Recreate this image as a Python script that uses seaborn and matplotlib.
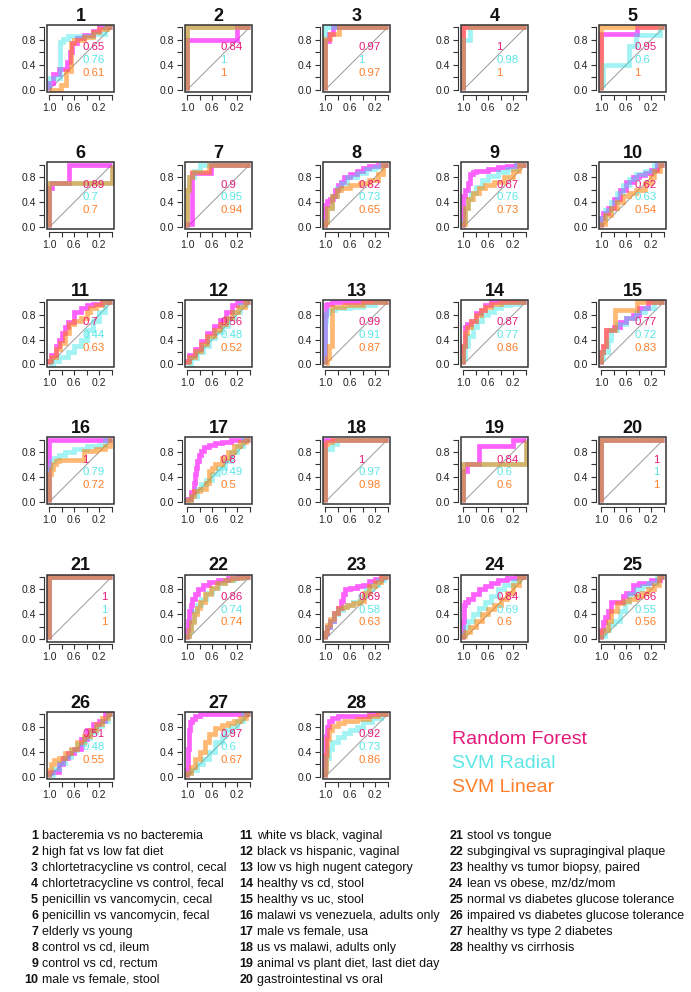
import matplotlib
matplotlib.use("Agg")
import matplotlib.pyplot as plt
from matplotlib.patches import Rectangle
import seaborn as sns

sns.set_theme(style="white")
plt.rcParams["font.family"] = ["Liberation Sans", "DejaVu Sans"]

# AUC values printed in each panel
auc_rf = [0.65, 0.84, 0.97, 1, 0.95, 0.89, 0.9, 0.82, 0.87, 0.62,
          0.7, 0.56, 0.99, 0.87, 0.77, 1, 0.8, 1, 0.84, 1,
          1, 0.86, 0.69, 0.84, 0.66, 0.51, 0.97, 0.92]
auc_radial = [0.76, 1, 1, 0.98, 0.6, 0.7, 0.95, 0.73, 0.76, 0.63,
              0.44, 0.48, 0.91, 0.77, 0.72, 0.79, 0.49, 0.97, 0.6, 1,
              1, 0.74, 0.58, 0.69, 0.55, 0.48, 0.6, 0.73]
auc_linear = [0.61, 1, 0.97, 1, 1, 0.7, 0.94, 0.65, 0.73, 0.54,
              0.63, 0.52, 0.87, 0.86, 0.83, 0.72, 0.5, 0.98, 0.6, 1,
              1, 0.74, 0.63, 0.6, 0.56, 0.55, 0.67, 0.86]

descriptions = [
    "bacteremia vs no bacteremia", "high fat vs low fat diet",
    "chlortetracycline vs control, cecal", "chlortetracycline vs control, fecal",
    "penicillin vs vancomycin, cecal", "penicillin vs vancomycin, fecal",
    "elderly vs young", "control vs cd, ileum", "control vs cd, rectum",
    "male vs female, stool", "white vs black, vaginal",
    "black vs hispanic, vaginal", "low vs high nugent category",
    "healthy vs cd, stool", "healthy vs uc, stool",
    "malawi vs venezuela, adults only", "male vs female, usa",
    "us vs malawi, adults only", "animal vs plant diet, last diet day",
    "gastrointestinal vs oral", "stool vs tongue",
    "subgingival vs supragingival plaque", "healthy vs tumor biopsy, paired",
    "lean vs obese, mz/dz/mom", "normal vs diabetes glucose tolerance",
    "impaired vs diabetes glucose tolerance", "healthy vs type 2 diabetes",
    "healthy vs cirrhosis",
]

models = ["Random Forest", "SVM Radial", "SVM Linear"]

# ROC step corners: (specificity, sensitivity), sensitivity held until that specificity
roc_rf = {
    1: [(1, 0), (0.95, 0.1), (0.85, 0.25), (0.72, 0.33), (0.67, 0.45), (0.63, 0.6), (0.55, 0.75), (0.45, 0.83), (0.3, 0.88), (0.2, 0.95), (0, 1)],
    2: [(1, 0), (0.2, 0.8), (0, 1)],
    3: [(1, 0), (0.95, 0.78), (0.88, 0.9), (0.8, 1), (0, 1)],
    4: [(1, 0), (0, 1)],
    5: [(1, 0), (0.42, 0.9), (0, 1)],
    6: [(1, 0), (0.96, 0.62), (0.68, 0.7), (0, 1)],
    7: [(1, 0), (0.92, 0.05), (0.62, 0.87), (0, 1)],
    8: [(1, 0), (0.97, 0.35), (0.92, 0.42), (0.88, 0.45), (0.85, 0.5), (0.8, 0.6), (0.75, 0.68), (0.7, 0.72), (0.6, 0.8), (0.5, 0.85), (0.4, 0.9), (0.3, 0.95), (0.15, 0.98), (0, 1)],
    9: [(1, 0), (0.97, 0.5), (0.93, 0.6), (0.9, 0.7), (0.85, 0.85), (0.8, 0.88), (0.6, 0.9), (0.45, 0.93), (0.3, 0.96), (0.15, 0.98), (0, 1)],
    10: [(1, 0), (0.97, 0.15), (0.9, 0.22), (0.8, 0.3), (0.7, 0.45), (0.6, 0.6), (0.5, 0.72), (0.4, 0.8), (0.3, 0.83), (0.2, 0.87), (0.1, 0.92), (0, 1)],
    11: [(1, 0), (0.97, 0.05), (0.9, 0.15), (0.85, 0.3), (0.8, 0.4), (0.75, 0.5), (0.7, 0.6), (0.6, 0.68), (0.5, 0.85), (0.4, 0.9), (0.3, 0.95), (0.15, 0.98), (0, 1)],
    12: [(1, 0), (0.97, 0.05), (0.88, 0.15), (0.78, 0.25), (0.68, 0.38), (0.58, 0.5), (0.48, 0.62), (0.38, 0.72), (0.28, 0.85), (0.2, 0.95), (0.1, 1), (0, 1)],
    13: [(1, 0), (0.99, 0.8), (0.97, 0.95), (0.9, 0.98), (0, 1)],
    14: [(1, 0), (0.98, 0.3), (0.95, 0.6), (0.88, 0.65), (0.8, 0.7), (0.72, 0.82), (0.65, 0.88), (0.55, 0.95), (0.4, 1), (0, 1)],
    15: [(1, 0), (0.98, 0.2), (0.93, 0.3), (0.8, 0.55), (0.7, 0.6), (0.6, 0.68), (0.5, 0.75), (0.4, 0.8), (0.25, 0.9), (0.15, 1), (0, 1)],
    16: [(1, 0), (0, 1)],
    17: [(1, 0), (0.95, 0.05), (0.9, 0.15), (0.88, 0.3), (0.86, 0.45), (0.84, 0.55), (0.82, 0.65), (0.78, 0.75), (0.73, 0.82), (0.65, 0.88), (0.55, 0.92), (0.45, 0.95), (0.3, 0.97), (0.1, 1), (0, 1)],
    18: [(1, 0), (0, 1)],
    19: [(1, 0), (0.94, 0.5), (0.75, 0.6), (0.2, 0.9), (0, 1)],
    20: [(1, 0), (0, 1)],
    21: [(1, 0), (0, 1)],
    22: [(1, 0), (0.99, 0.15), (0.97, 0.3), (0.95, 0.45), (0.92, 0.55), (0.88, 0.65), (0.83, 0.72), (0.75, 0.8), (0.65, 0.87), (0.5, 0.92), (0.35, 0.96), (0.2, 0.98), (0, 1)],
    23: [(1, 0), (0.98, 0.1), (0.93, 0.2), (0.87, 0.3), (0.8, 0.42), (0.75, 0.5), (0.72, 0.62), (0.68, 0.72), (0.6, 0.8), (0.5, 0.83), (0.4, 0.86), (0.3, 0.88), (0.2, 0.93), (0.1, 0.97), (0, 1)],
    24: [(1, 0), (0.99, 0.3), (0.97, 0.55), (0.93, 0.6), (0.85, 0.65), (0.75, 0.72), (0.65, 0.8), (0.55, 0.85), (0.45, 0.9), (0.3, 0.95), (0.15, 0.98), (0, 1)],
    25: [(1, 0), (0.98, 0.15), (0.95, 0.28), (0.9, 0.35), (0.85, 0.45), (0.8, 0.6), (0.65, 0.6), (0.6, 0.7), (0.5, 0.75), (0.4, 0.88), (0.2, 0.9), (0.05, 0.95), (0, 1)],
    26: [(1, 0), (0.97, 0.05), (0.85, 0.08), (0.78, 0.2), (0.7, 0.3), (0.6, 0.38), (0.5, 0.45), (0.4, 0.6), (0.3, 0.75), (0.2, 0.85), (0.1, 0.9), (0, 1)],
    27: [(1, 0), (0.99, 0.1), (0.98, 0.45), (0.96, 0.75), (0.93, 0.88), (0.88, 0.93), (0.8, 0.97), (0.78, 1), (0, 1)],
    28: [(1, 0), (0.99, 0.35), (0.98, 0.65), (0.95, 0.8), (0.9, 0.9), (0.8, 0.95), (0.6, 0.97), (0.3, 0.98), (0, 1)],
}

roc_radial = {
    1: [(1, 0), (0.83, 0.18), (0.78, 0.77), (0.7, 0.82), (0.3, 0.86), (0.1, 0.9), (0, 1)],
    2: [(1, 0), (0, 1)],
    3: [(1, 0), (0, 1)],
    4: [(1, 0), (0.9, 0.8), (0, 1)],
    5: [(1, 0), (0.97, 0.08), (0.55, 0.4), (0.45, 0.7), (0.05, 0.88), (0, 1)],
    6: [(1, 0), (0, 0.7), (0, 1)],
    7: [(1, 0), (0.97, 0.6), (0.9, 0.8), (0.8, 0.9), (0, 1)],
    8: [(1, 0), (0.97, 0.1), (0.9, 0.3), (0.82, 0.5), (0.75, 0.62), (0.65, 0.7), (0.5, 0.8), (0.35, 0.87), (0.2, 0.93), (0.1, 0.97), (0, 1)],
    9: [(1, 0), (0.97, 0.1), (0.93, 0.3), (0.88, 0.45), (0.8, 0.55), (0.7, 0.65), (0.6, 0.75), (0.45, 0.82), (0.3, 0.88), (0.15, 0.93), (0, 1)],
    10: [(1, 0), (0.95, 0.15), (0.85, 0.28), (0.75, 0.4), (0.65, 0.55), (0.55, 0.68), (0.45, 0.78), (0.3, 0.85), (0.15, 0.9), (0, 1)],
    11: [(1, 0), (0.95, 0.0), (0.85, 0.05), (0.7, 0.12), (0.6, 0.2), (0.5, 0.3), (0.4, 0.4), (0.3, 0.55), (0.2, 0.7), (0.1, 0.85), (0, 1)],
    12: [(1, 0), (0.95, 0.0), (0.85, 0.1), (0.75, 0.2), (0.65, 0.3), (0.55, 0.42), (0.45, 0.52), (0.35, 0.62), (0.25, 0.75), (0.15, 0.85), (0.05, 0.95), (0, 1)],
    13: [(1, 0), (0.99, 0.7), (0.95, 0.82), (0.85, 0.87), (0.6, 0.9), (0.4, 0.93), (0.2, 0.96), (0, 1)],
    14: [(1, 0), (0.97, 0.1), (0.92, 0.3), (0.85, 0.45), (0.78, 0.6), (0.7, 0.7), (0.6, 0.8), (0.5, 0.85), (0.4, 0.9), (0.25, 0.95), (0.1, 0.98), (0, 1)],
    15: [(1, 0), (0.97, 0.1), (0.9, 0.2), (0.85, 0.4), (0.75, 0.55), (0.6, 0.65), (0.45, 0.75), (0.3, 0.85), (0.15, 0.9), (0, 1)],
    16: [(1, 0), (0.97, 0.55), (0.92, 0.65), (0.85, 0.7), (0.75, 0.75), (0.6, 0.8), (0.4, 0.85), (0.2, 0.9), (0.1, 0.92), (0, 1)],
    17: [(1, 0), (0.95, 0.02), (0.85, 0.1), (0.78, 0.2), (0.7, 0.28), (0.6, 0.35), (0.5, 0.45), (0.4, 0.55), (0.3, 0.65), (0.2, 0.8), (0.1, 0.9), (0, 1)],
    18: [(1, 0), (0.9, 0.85), (0.82, 0.93), (0, 1)],
    19: [(1, 0), (0, 0.6), (0, 1)],
    20: [(1, 0), (0, 1)],
    21: [(1, 0), (0, 1)],
    22: [(1, 0), (0.98, 0.05), (0.95, 0.15), (0.9, 0.3), (0.85, 0.45), (0.78, 0.55), (0.7, 0.65), (0.6, 0.75), (0.5, 0.83), (0.4, 0.9), (0.25, 0.95), (0.1, 0.98), (0, 1)],
    23: [(1, 0), (0.98, 0.1), (0.93, 0.2), (0.87, 0.3), (0.8, 0.4), (0.72, 0.47), (0.65, 0.52), (0.55, 0.55), (0.45, 0.6), (0.35, 0.7), (0.25, 0.8), (0.15, 0.88), (0.05, 0.95), (0, 1)],
    24: [(1, 0), (0.98, 0.1), (0.93, 0.2), (0.85, 0.3), (0.75, 0.4), (0.65, 0.5), (0.55, 0.6), (0.45, 0.7), (0.35, 0.8), (0.2, 0.87), (0.1, 0.93), (0, 1)],
    25: [(1, 0), (0.95, 0.05), (0.88, 0.15), (0.8, 0.25), (0.7, 0.3), (0.62, 0.45), (0.55, 0.6), (0.45, 0.72), (0.35, 0.8), (0.25, 0.85), (0.1, 0.9), (0, 1)],
    26: [(1, 0), (0.95, 0.02), (0.85, 0.12), (0.75, 0.22), (0.65, 0.32), (0.55, 0.42), (0.45, 0.52), (0.35, 0.62), (0.25, 0.72), (0.15, 0.82), (0.05, 0.9), (0, 1)],
    27: [(1, 0), (0.95, 0.05), (0.85, 0.1), (0.75, 0.2), (0.65, 0.28), (0.55, 0.4), (0.45, 0.55), (0.4, 0.65), (0.3, 0.75), (0.2, 0.82), (0.1, 0.9), (0, 1)],
    28: [(1, 0), (0.99, 0.1), (0.95, 0.3), (0.9, 0.45), (0.8, 0.55), (0.7, 0.63), (0.6, 0.7), (0.5, 0.75), (0.4, 0.8), (0.25, 0.88), (0.1, 0.95), (0, 1)],
}

roc_linear = {
    1: [(1, 0), (0.82, 0), (0.74, 0.08), (0.66, 0.3), (0.6, 0.75), (0.45, 0.8), (0.3, 0.85), (0.2, 0.92), (0.08, 0.97), (0, 1)],
    2: [(1, 0), (0, 1)],
    3: [(1, 0), (0.92, 0.82), (0.78, 0.9), (0, 1)],
    4: [(1, 0), (0, 1)],
    5: [(1, 0), (0, 1)],
    6: [(1, 0), (0, 0.7), (0, 1)],
    7: [(1, 0), (0.97, 0.6), (0.92, 0.8), (0.65, 0.88), (0, 1)],
    8: [(1, 0), (0.97, 0.08), (0.9, 0.3), (0.82, 0.5), (0.75, 0.6), (0.6, 0.63), (0.45, 0.67), (0.3, 0.7), (0.15, 0.75), (0.08, 0.85), (0, 1)],
    9: [(1, 0), (0.97, 0.05), (0.93, 0.3), (0.85, 0.45), (0.75, 0.55), (0.65, 0.62), (0.5, 0.68), (0.35, 0.72), (0.2, 0.8), (0.1, 0.9), (0, 1)],
    10: [(1, 0), (0.95, 0.05), (0.85, 0.2), (0.75, 0.3), (0.65, 0.4), (0.55, 0.5), (0.45, 0.55), (0.3, 0.6), (0.2, 0.7), (0.15, 0.8), (0.05, 0.9), (0, 1)],
    11: [(1, 0), (0.97, 0.05), (0.9, 0.12), (0.83, 0.25), (0.75, 0.35), (0.68, 0.5), (0.6, 0.65), (0.5, 0.7), (0.4, 0.75), (0.35, 0.85), (0.25, 0.9), (0.15, 0.95), (0, 1)],
    12: [(1, 0), (0.97, 0.03), (0.88, 0.12), (0.78, 0.22), (0.68, 0.33), (0.58, 0.45), (0.48, 0.55), (0.38, 0.65), (0.28, 0.75), (0.18, 0.85), (0.08, 0.93), (0, 1)],
    13: [(1, 0), (0.98, 0.02), (0.94, 0.1), (0.9, 0.3), (0.89, 0.88), (0.7, 0.92), (0.4, 0.95), (0, 1)],
    14: [(1, 0), (0.98, 0.3), (0.95, 0.5), (0.88, 0.6), (0.8, 0.7), (0.72, 0.8), (0.65, 0.88), (0.55, 0.93), (0.4, 0.98), (0, 1)],
    15: [(1, 0), (0.98, 0.2), (0.93, 0.3), (0.78, 0.55), (0.42, 0.88), (0, 1)],
    16: [(1, 0), (0.98, 0.45), (0.95, 0.52), (0.9, 0.6), (0.85, 0.65), (0.44, 0.67), (0.25, 0.82), (0.1, 0.85), (0.03, 0.9), (0, 1)],
    17: [(1, 0), (0.95, 0.02), (0.9, 0.1), (0.8, 0.18), (0.7, 0.2), (0.65, 0.3), (0.6, 0.5), (0.55, 0.55), (0.45, 0.6), (0.35, 0.7), (0.25, 0.8), (0.15, 0.9), (0.05, 0.97), (0, 1)],
    18: [(1, 0), (0.97, 0.93), (0.9, 0.97), (0, 1)],
    19: [(1, 0), (0, 0.6), (0, 1)],
    20: [(1, 0), (0, 1)],
    21: [(1, 0), (0, 1)],
    22: [(1, 0), (0.98, 0.05), (0.94, 0.15), (0.9, 0.28), (0.85, 0.4), (0.8, 0.5), (0.72, 0.6), (0.62, 0.72), (0.52, 0.82), (0.4, 0.9), (0.28, 0.95), (0.12, 0.98), (0, 1)],
    23: [(1, 0), (0.98, 0.12), (0.93, 0.22), (0.87, 0.32), (0.8, 0.42), (0.72, 0.5), (0.65, 0.52), (0.55, 0.55), (0.45, 0.58), (0.38, 0.62), (0.3, 0.75), (0.2, 0.85), (0.1, 0.92), (0, 1)],
    24: [(1, 0), (0.97, 0.05), (0.9, 0.12), (0.8, 0.2), (0.7, 0.3), (0.6, 0.4), (0.5, 0.48), (0.4, 0.55), (0.3, 0.65), (0.2, 0.75), (0.1, 0.88), (0, 1)],
    25: [(1, 0), (0.97, 0.12), (0.9, 0.15), (0.85, 0.3), (0.75, 0.45), (0.65, 0.58), (0.55, 0.62), (0.45, 0.65), (0.35, 0.7), (0.25, 0.75), (0.15, 0.8), (0.08, 0.88), (0, 1)],
    26: [(1, 0), (0.97, 0.1), (0.92, 0.2), (0.85, 0.27), (0.75, 0.3), (0.65, 0.38), (0.55, 0.45), (0.45, 0.55), (0.35, 0.65), (0.25, 0.75), (0.15, 0.85), (0.05, 0.95), (0, 1)],
    27: [(1, 0), (0.95, 0.05), (0.88, 0.15), (0.8, 0.28), (0.72, 0.4), (0.65, 0.55), (0.55, 0.68), (0.45, 0.78), (0.35, 0.83), (0.25, 0.87), (0.15, 0.9), (0.05, 0.95), (0, 1)],
    28: [(1, 0), (0.99, 0.1), (0.97, 0.35), (0.95, 0.6), (0.9, 0.75), (0.8, 0.82), (0.7, 0.86), (0.5, 0.9), (0.3, 0.93), (0.15, 0.97), (0, 1)],
}

line_colors = ["#FF00FF", "#22E3E3", "#FF8000"]
line_alpha = [0.62, 0.42, 0.55]
text_colors = ["#E6197A", "#5CE6E6", "#FF7F2A"]

W, H = 691, 992
fig = plt.figure(figsize=(W / 100, H / 100), dpi=100)

box = 67
for i, n in enumerate(range(1, 29)):
    row, col = divmod(i, 5)
    left = 47 + 138 * col
    top = 25 + 137.4 * row
    ax = fig.add_axes([left / W, 1 - (top + box) / H, box / W, box / H])

    ax.plot([1, 0], [0, 1], color="#9A9A9A", lw=0.7, zorder=1)
    for curves, c, a in zip([roc_rf, roc_radial, roc_linear], line_colors, line_alpha):
        xs = [p[0] for p in curves[n]]
        ys = [p[1] for p in curves[n]]
        sns.lineplot(x=xs, y=ys, sort=False, estimator=None, ax=ax,
                     drawstyle="steps-pre", color=c, alpha=a, lw=3.4,
                     solid_capstyle="butt", solid_joinstyle="miter")

    ax.set_xlim(1.04, -0.04)
    ax.set_ylim(-0.04, 1.04)
    ax.set_xticks([1, 0.8, 0.6, 0.4, 0.2, 0])
    ax.set_xticklabels(["1.0", "", "0.6", "", "0.2", ""])
    ax.set_yticks([0, 0.2, 0.4, 0.6, 0.8, 1])
    ax.set_yticklabels(["0.0", "", "0.4", "", "0.8", ""], rotation=90, va="center")
    ax.tick_params(axis="both", direction="out", length=3.6, width=0.8,
                   color="#333333", labelsize=7.5, labelcolor="#222222", pad=2.2)
    ax.tick_params(axis="both", which="both", bottom=True, left=True)
    for side in ["top", "right"]:
        ax.spines[side].set_visible(False)
    for side in ["left", "bottom"]:
        ax.spines[side].set_position(("outward", 2))
        ax.spines[side].set_bounds(0, 1)
        ax.spines[side].set_color("#333333")
        ax.spines[side].set_linewidth(0.8)
    ax.add_patch(Rectangle((0, 0), 1, 1, transform=ax.transAxes, fill=False,
                           ec="#333333", lw=1.1, clip_on=False, zorder=6))
    ax.set_xlabel("")
    ax.set_ylabel("")
    ax.set_title(str(n), fontsize=13, fontweight="bold", pad=3, color="#111111")

    tx = 0.16 if n in (20, 21) else 0.47
    for auc, c, ty in zip([auc_rf[i], auc_radial[i], auc_linear[i]], text_colors, [0.68, 0.475, 0.27]):
        ax.text(tx, ty, f"{auc:g}", color=c, fontsize=8.2, ha="left", va="center", zorder=7)

# legend text
for j, (m, c) in enumerate(zip(models, text_colors)):
    fig.text(452 / W, 1 - (740 + 23.5 * j) / H, m, color=c, fontsize=14,
             ha="left", va="center")

# description list
col_x = [42, 257, 467]
for i, d in enumerate(descriptions):
    c, r = divmod(i, 10)
    y = 1 - (836 + 16.0 * r) / H
    fig.text((col_x[c] - 4) / W, y, str(i + 1), fontsize=9, fontweight="bold",
             ha="right", va="center", color="#111111")
    fig.text(col_x[c] / W, y, d, fontsize=9, ha="left", va="center", color="#111111")

fig.savefig("out.png", dpi=100)
